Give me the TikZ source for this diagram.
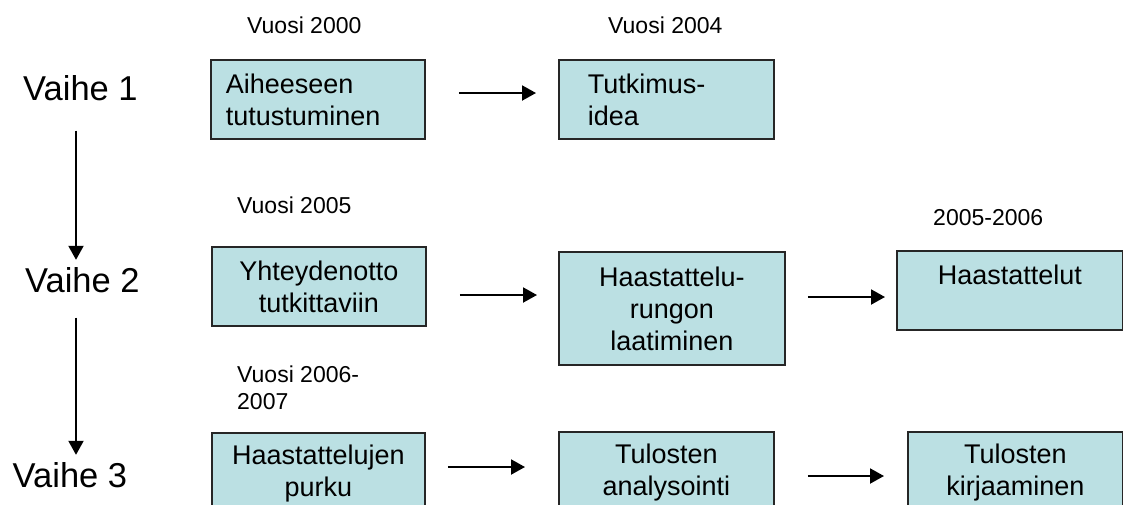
\documentclass[tikz,border=0pt]{standalone}
\usepackage{fontspec}
\setmainfont{Liberation Sans}
\usetikzlibrary{arrows.meta}
\definecolor{boxfill}{HTML}{BBE0E3}
\tikzset{
  box/.style={draw=black!85, line width=1.8pt, fill=boxfill, rectangle,
    inner ysep=0pt, anchor=north west, font=\fontsize{27}{32}\selectfont},
  cbox/.style={box, inner xsep=5pt, align=center},
  lbox/.style={box, align=left},
  vaihe/.style={inner sep=0pt, anchor=base west, font=\fontsize{34.5}{40}\selectfont},
  year/.style={inner sep=0pt, font=\fontsize{23}{27}\selectfont},
  arr/.style={line width=2pt, -{Triangle[length=14pt,width=15pt]}}
}
\begin{document}
\begin{tikzpicture}[x=1pt,y=-1pt]
\useasboundingbox (0,0) rectangle (1123,504);

% phase labels
\node[vaihe] (v1) at (23,100) {Vaihe 1};
\node[vaihe] (v2) at (25,292) {Vaihe 2};
\node[vaihe] (v3) at (12.5,487) {Vaihe 3};

% year labels
\node[year, anchor=base west] (y2000) at (247,33) {Vuosi 2000};
\node[year, anchor=base west] (y2004) at (608,33) {Vuosi 2004};
\node[year, anchor=base west] (y2005) at (237,213) {Vuosi 2005};
\node[year, anchor=base west] (y0506) at (933,225) {2005-2006};
\node[year, anchor=north west, align=left] (y0607) at (237,365.5) {Vuosi 2006-\\2007};

% boxes
\node[lbox, inner xsep=15pt, text width=184pt, minimum height=79pt] (a) at (210,59) {Aiheeseen\\tutustuminen};
\node[lbox, inner xsep=29pt, text width=157pt, minimum height=79pt] (b) at (558,59) {Tutkimus-\\idea};
\node[cbox, text width=204pt, minimum height=79pt] (c) at (211,246) {Yhteydenotto\\tutkittaviin};
\node[cbox, text width=216pt, minimum height=113pt] (d) at (558,251) {Haastattelu-\\rungon\\laatiminen};
\node[cbox, text width=216pt, minimum height=79pt] (e) at (896,250) {Haastattelut\\\mbox{}};
\node[cbox, text width=203pt, minimum height=80.5pt] (f) at (211,432) {Haastattelujen\\purku};
\node[cbox, text width=205pt, minimum height=80.5pt] (g) at (558,431) {Tulosten\\analysointi};
\node[cbox, text width=205pt, minimum height=80.5pt] (h) at (907,431) {Tulosten\\kirjaaminen};

% levels for connectors
\coordinate (r1) at (0,93);
\coordinate (r2) at (0,295);
\coordinate (r2b) at (0,297);
\coordinate (r3) at (0,467);
\coordinate (r3b) at (0,476);
\coordinate (vx) at (76,0);

% horizontal connectors
\draw[arr, shorten <=33pt, shorten >=22pt] (a.east |- r1) -- (b.west |- r1);
\draw[arr, shorten <=33pt, shorten >=21pt] (c.east |- r2) -- (d.west |- r2);
\draw[arr, shorten <=22pt, shorten >=11pt] (d.east |- r2b) -- (e.west |- r2b);
\draw[arr, shorten <=22pt, shorten >=33pt] (f.east |- r3) -- (g.west |- r3);
\draw[arr, shorten <=33pt, shorten >=23pt] (g.east |- r3b) -- (h.west |- r3b);

% vertical connectors
\draw[arr, shorten <=30pt, shorten >=7pt] (v1.south -| vx) -- (v2.north -| vx);
\draw[arr, shorten <=25pt, shorten >=7pt] (v2.south -| vx) -- (v3.north -| vx);
\end{tikzpicture}
\end{document}
